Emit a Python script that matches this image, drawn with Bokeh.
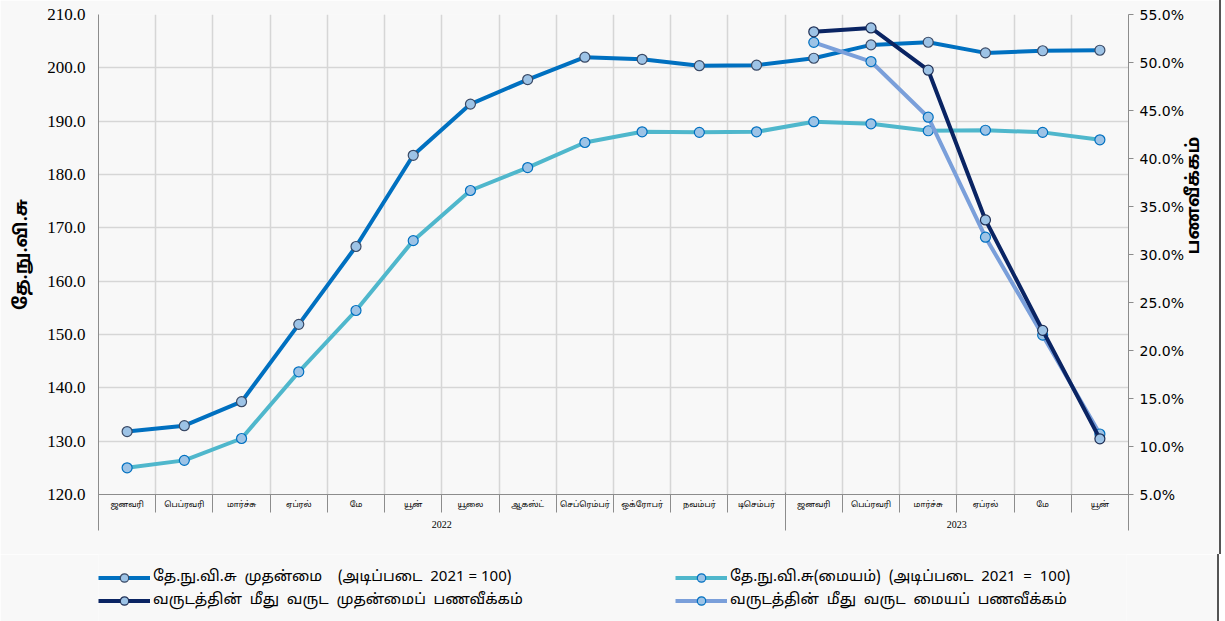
import math
from bokeh.plotting import figure
from bokeh.layouts import column
from bokeh.models import (Range1d, LinearAxis, FixedTicker, PrintfTickFormatter,
                          Legend, LegendItem, ColumnDataSource, Grid)
from bokeh.embed import file_html
from bokeh.resources import INLINE

months = ["ஜனவரி", "பெப்ரவரி", "மார்ச்சு", "ஏப்ரல்", "மே", "யூன்", "யூலை", "ஆகஸ்ட்",
          "செப்ரெம்பர்", "ஒக்ரோபர்", "நவம்பர்", "டிசெம்பர்",
          "ஜனவரி", "பெப்ரவரி", "மார்ச்சு", "ஏப்ரல்", "மே", "யூன்"]
years = ["2022", "2023"]
year_lengths = [12, 6]

ncpi_headline = [131.8, 132.9, 137.4, 151.9, 166.5, 183.6, 193.2, 197.8, 202.0, 201.6,
                 200.4, 200.5, 201.8, 204.3, 204.8, 202.8, 203.2, 203.3]
ncpi_core = [125.0, 126.4, 130.5, 143.0, 154.5, 167.6, 177.0, 181.3, 186.0, 188.0,
             187.9, 188.0, 189.9, 189.5, 188.2, 188.3, 187.9, 186.5]
yoy_months_start = 12
yoy_headline = [53.2, 53.6, 49.2, 33.6, 22.1, 10.8]
yoy_core = [52.1, 50.1, 44.3, 31.8, 21.6, 11.3]

labels = ["தே.நு.வி.சு  முதன்மை    (அடிப்படை  2021 = 100)",
          "தே.நு.வி.சு(மையம்)  (அடிப்படை  2021  =  100)",
          "வருடத்தின்  மீது  வருட  முதன்மைப்  பணவீக்கம்",
          "வருடத்தின்  மீது  வருட  மையப்  பணவீக்கம்"]

n = len(months)
xs = [i + 0.5 for i in range(n)]
xs_yoy = [i + 0.5 for i in range(yoy_months_start, n)]

BG = "#F8F8F8"
TAMIL = "Noto Sans Tamil, Noto Sans, sans-serif"
AXC = "#8C8C8C"
BORDER = {"border-right": "2px solid #555555"}
TOTAL_W = 98 + 1028 + 93

p = figure(frame_width=1028, frame_height=480, output_backend="svg", toolbar_location=None,
           x_range=Range1d(0, n), y_range=Range1d(120, 210),
           x_axis_location=None, y_axis_location=None,
           min_border_left=98, min_border_right=93, min_border_top=14, min_border_bottom=60,
           background_fill_color=BG, border_fill_color=BG, outline_line_color=None)
p.styles = BORDER
p.extra_y_ranges = {"pct": Range1d(5, 55)}

# left axis
left = LinearAxis(ticker=FixedTicker(ticks=list(range(120, 211, 10))),
                  formatter=PrintfTickFormatter(format="%.1f"),
                  axis_label="தே.நு.வி.சு")
left.major_tick_out = 0
left.major_tick_in = 0
left.minor_tick_out = 0
left.minor_tick_in = 0
left.axis_line_color = AXC
left.major_label_text_font = "Liberation Serif"
left.major_label_text_font_size = "17px"
left.major_label_text_color = "#000000"
left.major_label_standoff = 13
left.axis_label_text_font = TAMIL
left.axis_label_text_font_style = "bold"
left.axis_label_text_font_size = "18px"
left.axis_label_text_color = "#000000"
left.axis_label_standoff = 10
p.add_layout(left, "left")

# right axis
right = LinearAxis(y_range_name="pct", ticker=FixedTicker(ticks=list(range(5, 56, 5))),
                   formatter=PrintfTickFormatter(format="%.1f%%"),
                   axis_label="பணவீக்கம்")
right.major_tick_out = 5
right.major_tick_in = 0
right.minor_tick_out = 0
right.minor_tick_in = 0
right.axis_line_color = AXC
right.major_tick_line_color = AXC
right.major_label_text_font = "DejaVu Sans"
right.major_label_text_font_size = "14px"
right.major_label_text_color = "#000000"
right.major_label_standoff = 6
right.axis_label_text_font = TAMIL
right.axis_label_text_font_style = "bold"
right.axis_label_text_font_size = "18px"
right.axis_label_text_color = "#000000"
right.axis_label_standoff = 8
right.axis_label_orientation = math.pi / 2
p.add_layout(right, "right")

# month label row
hA = 18
month_axis = LinearAxis(ticker=FixedTicker(ticks=xs, minor_ticks=[]),
                        major_label_overrides={x: m for x, m in zip(xs, months)})
month_axis.major_tick_out = 0
month_axis.major_tick_in = 0
month_axis.minor_tick_out = 0
month_axis.minor_tick_in = 0
month_axis.axis_line_color = AXC
month_axis.major_label_text_font = TAMIL
month_axis.major_label_text_font_size = "8px"
month_axis.major_label_text_color = "#000000"
month_axis.major_label_standoff = 5
p.add_layout(month_axis, "below")

# year label row, with month separators drawn upward through the month row
bounds = [0]
for L in year_lengths:
    bounds.append(bounds[-1] + L)
year_centers = [(bounds[i] + bounds[i + 1]) / 2 for i in range(len(years))]
hB = 20
year_axis = LinearAxis(ticker=FixedTicker(ticks=year_centers, minor_ticks=list(range(0, n + 1))),
                       major_label_overrides={c: y for c, y in zip(year_centers, years)})
year_axis.major_tick_out = 0
year_axis.major_tick_in = 0
year_axis.minor_tick_out = 0
year_axis.minor_tick_in = hA
year_axis.minor_tick_line_color = AXC
year_axis.axis_line_color = None
year_axis.major_label_text_font = "Liberation Serif"
year_axis.major_label_text_font_size = "10px"
year_axis.major_label_text_color = "#000000"
year_axis.major_label_standoff = 8
p.add_layout(year_axis, "below")

# year separators (no labels)
sep_axis = LinearAxis(ticker=FixedTicker(ticks=[], minor_ticks=bounds))
sep_axis.major_tick_out = 0
sep_axis.major_tick_in = 0
sep_axis.minor_tick_out = 0
sep_axis.minor_tick_in = hA + hB
sep_axis.minor_tick_line_color = AXC
sep_axis.axis_line_color = None
sep_axis.major_label_standoff = 0
p.add_layout(sep_axis, "below")

p.add_layout(Grid(dimension=0, ticker=FixedTicker(ticks=list(range(1, n))),
                  grid_line_color="#D6D6D6", grid_line_width=1.5))
p.add_layout(Grid(dimension=1, ticker=FixedTicker(ticks=list(range(130, 211, 10))),
                  grid_line_color="#D6D6D6", grid_line_width=1.5))

src1 = ColumnDataSource(dict(x=xs, y=ncpi_headline))
src2 = ColumnDataSource(dict(x=xs, y=ncpi_core))
src3 = ColumnDataSource(dict(x=xs_yoy, y=yoy_headline))
src4 = ColumnDataSource(dict(x=xs_yoy, y=yoy_core))

MFILL = "#9DC3E6"
STYLES = [
    dict(src=src1, rng="default", lc="#0070C0", mc="#3A4A66"),
    dict(src=src2, rng="default", lc="#4FB7CC", mc="#0070C0"),
    dict(src=src3, rng="pct", lc="#0A2463", mc="#1F2F55"),
    dict(src=src4, rng="pct", lc="#7A9FDA", mc="#0070C0"),
]


def draw(fig, s):
    kw = {} if s["rng"] == "default" else {"y_range_name": s["rng"]}
    ln = fig.line("x", "y", source=s["src"], line_color=s["lc"], line_width=4, **kw)
    mk = fig.scatter("x", "y", source=s["src"], size=10, fill_color=MFILL,
                     line_color=s["mc"], line_width=1.2, **kw)
    return ln, mk


for i in [0, 1, 3, 2]:
    draw(p, STYLES[i])

# legend strip below the chart (same series, drawn out of view, only for legend glyphs)
LEG_H = 621 - (14 + 480 + 60)
q = figure(width=TOTAL_W, height=LEG_H, output_backend="svg", toolbar_location=None,
           x_range=Range1d(-100, -99), y_range=Range1d(-100, -99),
           x_axis_location=None, y_axis_location=None,
           min_border_left=0, min_border_right=0, min_border_top=0, min_border_bottom=0,
           background_fill_color=BG, border_fill_color=BG, outline_line_color=None)
q.styles = BORDER
q.extra_y_ranges = {"pct": Range1d(-100, -99)}
q.xgrid.visible = False
q.ygrid.visible = False
rends = [draw(q, s) for s in STYLES]

items = [LegendItem(label=labels[0], renderers=list(rends[0])),
         LegendItem(label=labels[2], renderers=list(rends[2])),
         LegendItem(label=labels[1], renderers=list(rends[1])),
         LegendItem(label=labels[3], renderers=list(rends[3]))]
legend = Legend(items=items, ncols=2, location=(0, 10),
                background_fill_alpha=0, border_line_color=None,
                padding=0, spacing=2, margin=0,
                glyph_width=52, glyph_height=21, label_standoff=3, label_width=520,
                label_height=21,
                label_text_font=TAMIL, label_text_font_size="15px", label_text_color="#000000")
q.add_layout(legend, "center")

layout = column(p, q, spacing=0)
open("out.html", "w").write(file_html(layout, INLINE))
